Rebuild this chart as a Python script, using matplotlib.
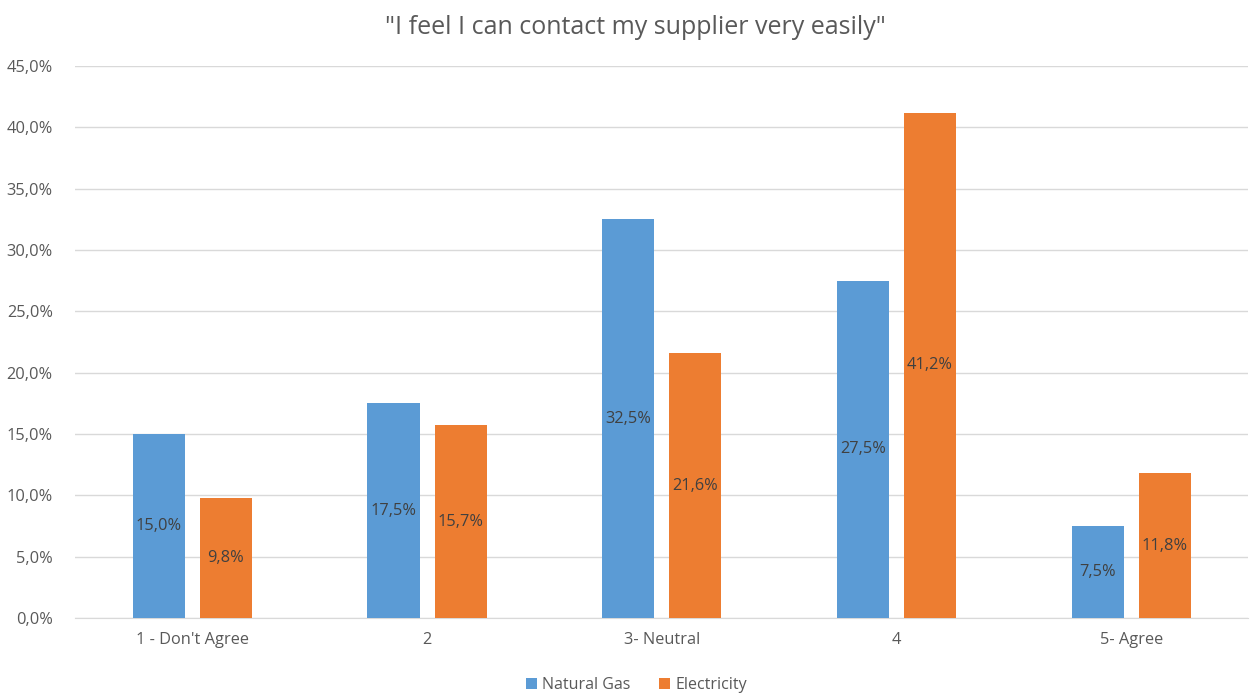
import matplotlib
matplotlib.use("Agg")
import matplotlib.pyplot as plt
import numpy as np
from matplotlib.ticker import FuncFormatter

categories = ["1 - Don't Agree", "2", "3- Neutral", "4", "5- Agree"]
natural_gas = [15.0, 17.5, 32.5, 27.5, 7.5]
electricity = [9.8, 15.7, 21.6, 41.2, 11.8]
series_names = ["Natural Gas", "Electricity"]
title = '"I feel I can contact my supplier very easily"'

plt.rcParams["font.family"] = ["Open Sans", "DejaVu Sans"]
text_col = "#595959"
blue = "#5B9BD5"
orange = "#ED7D31"

fig = plt.figure(figsize=(12.53, 6.93), dpi=100)
ax = fig.add_axes([0.0599, 0.1082, 0.9365, 0.7966])

x = np.arange(len(categories))
w = 0.222
off = 0.143
b1 = ax.bar(x - off, natural_gas, w, color=blue, zorder=3, label=series_names[0])
b2 = ax.bar(x + off, electricity, w, color=orange, zorder=3, label=series_names[1])

def pct(v):
    return f"{v:.1f}%".replace(".", ",")

for bars, vals in ((b1, natural_gas), (b2, electricity)):
    for rect, v in zip(bars, vals):
        ax.text(rect.get_x() + rect.get_width() / 2, v / 2, pct(v),
                ha="center", va="center", fontsize=11.8, color="#404040", zorder=4)

ax.set_xlim(-0.5, len(categories) - 0.5)
ax.set_ylim(0, 45)
ax.set_yticks(np.arange(0, 45.1, 5))
ax.yaxis.set_major_formatter(FuncFormatter(lambda v, p: pct(v)))
ax.set_xticks(x)
ax.set_xticklabels(categories)
ax.grid(axis="y", color="#D9D9D9", linewidth=1, zorder=0)
for s in ["top", "right", "left"]:
    ax.spines[s].set_visible(False)
ax.spines["bottom"].set_color("#D9D9D9")
ax.tick_params(axis="both", length=0, colors=text_col, labelsize=11.8)
ax.tick_params(axis="y", pad=16)
ax.tick_params(axis="x", pad=10)

fig.text(0.507, 0.961, title, ha="center", va="center", fontsize=18, color=text_col)

fig.legend(handles=[b1, b2], loc="center", bbox_to_anchor=(0.508, 0.012),
           ncol=2, frameon=False, fontsize=11.5, labelcolor=text_col,
           handlelength=0.7, handleheight=0.7, handletextpad=0.3, columnspacing=1.8)

fig.savefig("out.png", dpi=100, facecolor="white")
